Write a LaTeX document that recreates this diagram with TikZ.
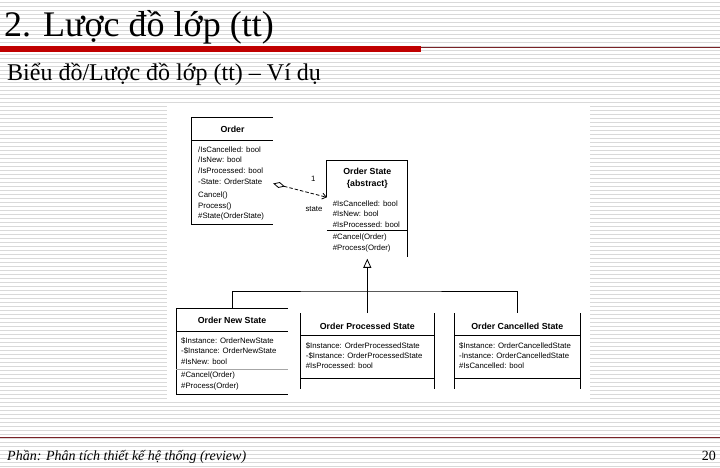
\documentclass[tikz,border=0pt]{standalone}
\usepackage{fontspec}
\setmainfont{Liberation Serif}
\setsansfont{Liberation Sans}
\usepackage{tikz}
\usetikzlibrary{arrows.meta,positioning,calc}
\definecolor{barred}{HTML}{C00000}
\definecolor{linered}{HTML}{7A2328}
\definecolor{stripe}{HTML}{D9D9D9}

\begin{document}
\begin{tikzpicture}[x=1pt, y=-1pt,
  box/.style={draw=none, rectangle, inner sep=0pt},
  umltxt/.style={anchor=base west, inner sep=0pt, font=\sffamily\fontsize{7.8}{9}\selectfont},
  umlname/.style={anchor=base, inner sep=0pt, font=\sffamily\bfseries\fontsize{8.8}{10}\selectfont},
  umlline/.style={black, line width=0.8pt},
  assoc/.style={umlline, dash pattern=on 3.5pt off 2pt, {Diamond[open,length=12pt,width=6pt]}-{Straight Barb[length=4pt,width=6pt]}},
  gen/.style={umlline, shorten >=1.5pt, -{Triangle[open,length=9pt,width=8pt]}}
]
  \useasboundingbox (0,0) rectangle (720,468);
  % striped slide background
  \fill[white] (0,0) rectangle (720,468);
  \foreach \y in {2,6,...,466}
    \draw[stripe, line width=0.5pt] (0,\y) -- (720,\y);
  \fill[white] (167,105) rectangle (590,402);

  % heading
  \node[anchor=base west, inner sep=0pt, font=\fontsize{36}{40}\selectfont] (title) at (4,37) {2. Lược đồ lớp (tt)};
  \fill[barred] (0,46) rectangle (421,52);
  \draw[linered, line width=0.8pt] (421,47) -- (720,47);
  \node[anchor=base west, inner sep=0pt, font=\fontsize{24}{26}\selectfont] (subtitle) at (7,81) {Biểu đồ/Lược đồ lớp (tt) -- Ví dụ};

  % class boxes
  \node[box, minimum width=81pt, minimum height=106pt] (order) at (232.5,171) {};
  \node[box, minimum width=80.6pt, minimum height=96.7pt] (ostate) at (367.3,208.7) {};
  \node[box, minimum width=111.4pt, minimum height=86pt] (newstate) at (232,351.3) {};
  \node[box, minimum width=134pt, minimum height=75pt] (processed) at (367.3,350.8) {};
  \node[box, minimum width=125.3pt, minimum height=75pt] (cancelled) at (517.3,350.8) {};

  % Order
  \draw[umlline] (order.north east) -- (order.north west) -- (order.south west) -- (order.south east);
  \draw[umlline] (order.west |- 0,140.7) -- (order.east |- 0,140.7);
  \node[umlname] (orderN) at (order.north |- 0,132) {Order};
  \foreach \t [count=\i] in {/IsCancelled: bool, /IsNew: bool, /IsProcessed: bool, -State: OrderState}
    \node[umltxt] (orderA\i) at (198,141.8+10.6*\i) {\t};
  \foreach \t [count=\i] in {Cancel(), Process(), \#State(OrderState)}
    \node[umltxt] (orderO\i) at (198,187.6+10.3*\i) {\t};

  % Order State
  \draw[umlline] (ostate.west |- 0,197) -- (ostate.north west) -- (ostate.north east) -- (ostate.south east);
  \draw[umlline] (ostate.west |- 0,230.7) -- (ostate.east |- 0,230.7);
  \node[umlname] (ostateN) at (ostate.north |- 0,175) {Order State};
  \node[umlname] (ostateS) at (ostate.north |- 0,186) {\{abstract\}};
  \foreach \t [count=\i] in {\#IsCancelled: bool, \#IsNew: bool, \#IsProcessed: bool}
    \node[umltxt] (ostateA\i) at (332.7,195.6+10.5*\i) {\t};
  \foreach \t [count=\i] in {\#Cancel(Order), \#Process(Order)}
    \node[umltxt] (ostateO\i) at (332.7,228.7+11*\i) {\t};

  % Order New State
  \draw[umlline] (newstate.north east) -- (newstate.north west) -- (newstate.south west) -- (newstate.south east);
  \draw[umlline] (newstate.west |- 0,331.3) -- (newstate.east |- 0,331.3);
  \draw[black!35, line width=0.6pt] (newstate.west |- 0,369) -- (newstate.east |- 0,369);
  \node[umlname] (newstateN) at (newstate.north |- 0,323) {Order New State};
  \foreach \t [count=\i] in {\$Instance: OrderNewState, -\$Instance: OrderNewState, \#IsNew: bool}
    \node[umltxt] (newstateA\i) at (181,332.6+10.5*\i) {\t};
  \foreach \t [count=\i] in {\#Cancel(Order), \#Process(Order)}
    \node[umltxt] (newstateO\i) at (181,367.4+10.3*\i) {\t};

  % Order Processed State
  \draw[umlline] (processed.north west) -- (processed.south west);
  \draw[umlline] (processed.north east) -- (processed.south east);
  \draw[umlline] (processed.west |- 0,335) -- (processed.east |- 0,335);
  \draw[umlline] (processed.west |- 0,378) -- (processed.east |- 0,378);
  \node[umlname] (processedN) at (processed.north |- 0,329) {Order Processed State};
  \foreach \t [count=\i] in {\$Instance: OrderProcessedState, -\$Instance: OrderProcessedState, \#IsProcessed: bool}
    \node[umltxt] (processedA\i) at (305.7,338+10.3*\i) {\t};

  % Order Cancelled State
  \draw[umlline] (cancelled.north west) -- (cancelled.south west);
  \draw[umlline] (cancelled.north east) -- (cancelled.south east);
  \draw[umlline] (cancelled.west |- 0,335) -- (cancelled.east |- 0,335);
  \draw[umlline] (cancelled.west |- 0,378) -- (cancelled.east |- 0,378);
  \node[umlname] (cancelledN) at (cancelled.north |- 0,329) {Order Cancelled State};
  \foreach \t [count=\i] in {\$Instance: OrderCancelledState, -Instance: OrderCancelledState, \#IsCancelled: bool}
    \node[umltxt] (cancelledA\i) at (459,338+10.3*\i) {\t};

  % association Order -> Order State
  \draw[assoc] ($(order.east)+(0,12.5)$) -- ($(ostate.west)+(0,-11.4)$);
  \node[umltxt, anchor=center] (mult) at (313.3,179) {1};
  \node[umltxt, anchor=center] (role) at (314,208.7) {state};

  % generalization
  \coordinate (bus) at (367.3,291);
  \draw[gen] (processed.north) -- (ostate.south);
  \draw[umlline] (newstate.north) |- (bus) -| (cancelled.north);

  % footer
  \draw[linered, line width=0.8pt] (0,437) -- (720,437);
  \node[anchor=base west, inner sep=0pt, font=\itshape\fontsize{14}{16}\selectfont] (footer) at (7,460) {Phần: Phân tích thiết kế hệ thống (review)};
  \node[anchor=base east, inner sep=0pt, font=\fontsize{14}{16}\selectfont] (pageno) at (716,460) {20};
\end{tikzpicture}
\end{document}
